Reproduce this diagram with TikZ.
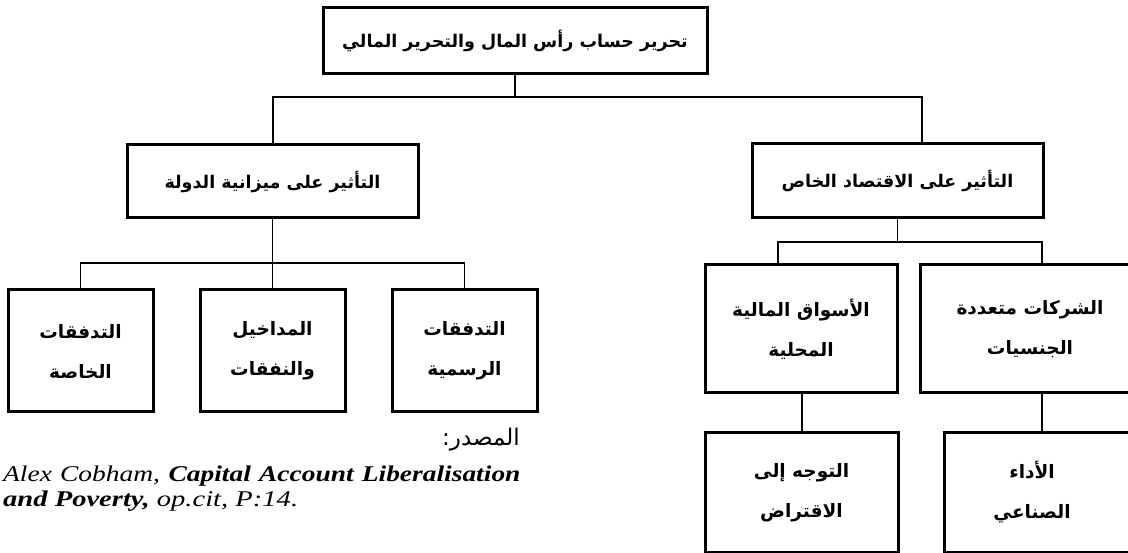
\documentclass[tikz,border=0pt]{standalone}
\usepackage{fontspec}
\setmainfont{Liberation Serif}
\newfontfamily\arabicfont[Script=Arabic]{DejaVu Sans}
\TeXXeTstate=1
\tikzset{
  box/.style={draw=black, line width=3pt, fill=white, inner sep=0pt, align=center,
    font=\arabicfont\bfseries\fontsize{18.5}{40}\selectfont},
  headfont/.style={font=\arabicfont\bfseries\fontsize{17.5}{20}\selectfont},
  conn/.style={draw=black, line width=1.3pt},
}
\begin{document}
\begin{tikzpicture}[x=1pt,y=-1pt]
\useasboundingbox (0,0) rectangle (1128,553);
% nodes
\node[box, headfont, minimum width=384pt, minimum height=66pt] (top) at (515,41)
  {\beginR تحرير حساب رأس المال والتحرير المالي\endR};
\node[box, headfont, minimum width=291pt, minimum height=73pt] (ML) at (272.5,181.5)
  {\beginR التأثير على ميزانية الدولة\endR};
\node[box, headfont, minimum width=291pt, minimum height=74pt] (MR) at (897.5,181)
  {\beginR التأثير على الاقتصاد الخاص\endR};
\node[box, minimum width=145pt, minimum height=122pt] (BL1) at (80.5,351)
  {\beginR التدفقات\endR\\\beginR الخاصة\endR};
\node[box, minimum width=145pt, minimum height=122pt] (BL2) at (272.5,351)
  {\beginR المداخيل\endR\\\beginR والنفقات\endR};
\node[box, minimum width=145pt, minimum height=122pt] (BL3) at (464.5,351)
  {\beginR التدفقات\endR\\\beginR الرسمية\endR};
\node[box, minimum width=192pt, minimum height=128pt] (A) at (801,329)
  {\beginR الأسواق المالية\endR\\\beginR المحلية\endR};
\node[box, minimum width=220pt, minimum height=128pt] (B) at (1030,329)
  {\beginR الشركات متعددة\endR\\\beginR الجنسيات\endR};
\node[box, minimum width=193pt, minimum height=119pt] (C) at (801.5,492.5)
  {\beginR التوجه إلى\endR\\\beginR الاقتراض\endR};
\node[box, minimum width=196pt, minimum height=119pt, text width=160pt] (D) at (1042,492.5)
  {\hspace*{-20pt}\beginR الأداء\endR\\\hspace*{-20pt}\beginR الصناعي\endR};
% source
\node[anchor=east, inner sep=0pt, font=\arabicfont\fontsize{23}{26}\selectfont] (src) at (520,440)
  {\beginR المصدر:\endR};
\node[anchor=west, inner sep=0pt, font=\fontsize{22.5}{25}\selectfont] (ref1) at (3,476)
  {\scalebox{1.22}[1]{\makebox[424pt][s]{\itshape Alex Cobham, \bfseries Capital Account Liberalisation}}};
\node[anchor=west, inner sep=0pt, font=\fontsize{22.5}{25}\selectfont] (ref2) at (3,501)
  {\scalebox{1.27}[1]{\itshape\bfseries and Poverty,\mdseries\ op.cit, P:14.}};
% connectors
\coordinate (j1) at (273,97);
\coordinate (j2) at (922,97);
\coordinate (j3) at (272.5,263);
\coordinate (j4) at (897.5,242);
\coordinate (ka) at (778,242);
\coordinate (kb) at (1042,242);
\coordinate (ca) at (802,0);
\draw[conn] (top.south) -- (top.south |- j1);
\draw[conn] (ML.north -| j1) -- (j1) -- (j2) -- (j2 |- MR.north);
\draw[conn] (ML.south) -- (j3);
\draw[conn] (BL1.north) |- (BL3.north |- j3) -- (BL3.north);
\draw[conn] (j3) -- (BL2.north);
\draw[conn] (MR.south -| j4) -- (j4);
\draw[conn] (ka |- A.north) -- (ka) -- (kb) -- (kb |- B.north);
\draw[conn] (A.south -| ca) -- (C.north -| ca);
\draw[conn] (B.south -| kb) -- (D.north -| kb);
\end{tikzpicture}
\end{document}
